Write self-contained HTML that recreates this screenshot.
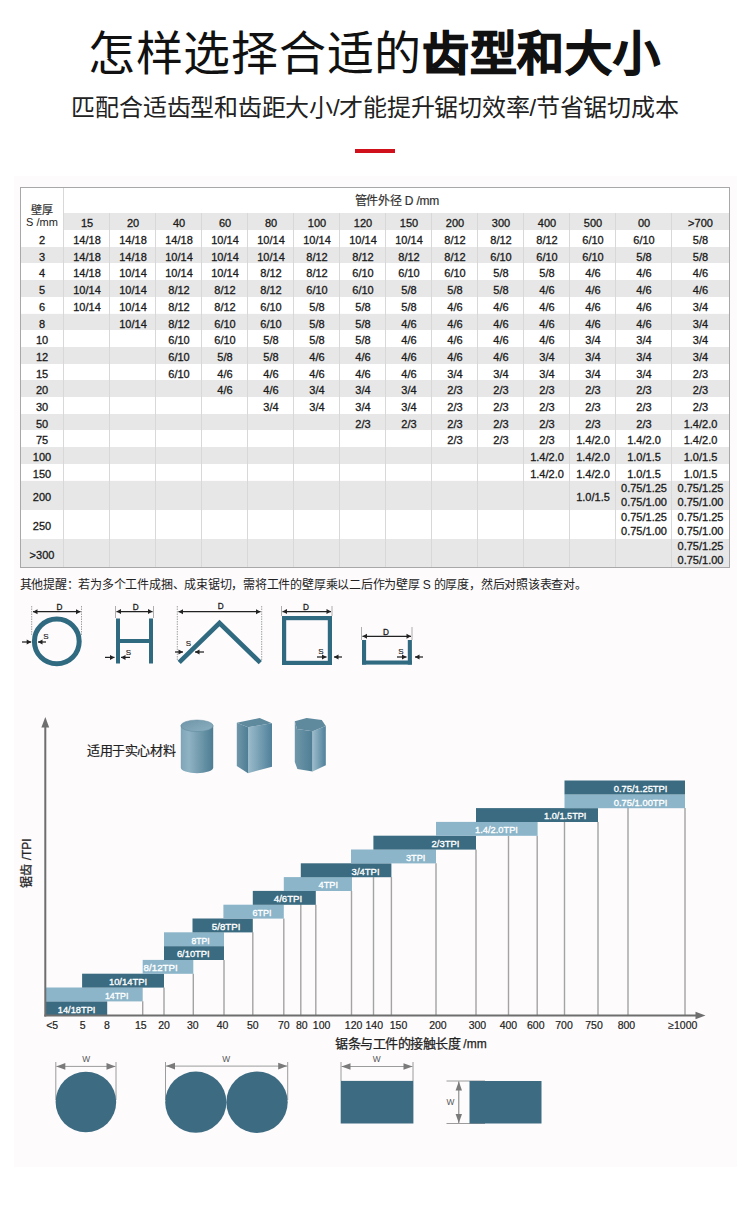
<!DOCTYPE html><html lang="zh-CN"><head><meta charset="utf-8"><style>
*{margin:0;padding:0;box-sizing:border-box}
body{width:750px;height:1213px;position:relative;background:#fff;overflow:hidden;font-family:"Liberation Sans",sans-serif;color:#1a1a1a}
.a{position:absolute;white-space:nowrap}
.c{text-align:center}
.bl{-webkit-text-stroke:0.2px #fff}
.cell{position:absolute;text-align:center;font-size:11px;white-space:nowrap;-webkit-text-stroke:0.3px #1a1a1a}
</style></head><body>
<div class="a" style="left:14px;top:176px;width:723px;height:991px;background:#fdfbfc"></div>
<div class="a" style="left:-1px;top:20.5px;width:750px;text-align:center;font-size:47px;letter-spacing:0.72px;text-indent:0.5px;line-height:66px;color:#111;font-weight:400">怎样选择合适的<b style="font-weight:700;-webkit-text-stroke:1.1px #111">齿型和大小</b></div>
<div class="a" style="left:0;top:92px;width:750px;text-align:center;font-size:24px;letter-spacing:-0.23px;line-height:32px;color:#222">匹配合适齿型和齿距大小/才能提升锯切效率/节省锯切成本</div>
<div class="a" style="left:355px;top:149px;width:40px;height:4px;background:#d0111b"></div>

<div class="a" style="left:64px;top:213px;width:665px;height:17px;background:#e7e7e7"></div>
<div class="a" style="left:20px;top:188px;width:709px;height:25px;background:#fff"></div>
<div class="a" style="left:20px;top:213px;width:44px;height:17px;background:#fff"></div>
<div class="a" style="left:20px;top:230.00px;width:709px;height:16.70px;background:#fff"></div>
<div class="a" style="left:20px;top:246.70px;width:709px;height:16.70px;background:#e7e7e7"></div>
<div class="a" style="left:20px;top:263.40px;width:709px;height:16.70px;background:#fff"></div>
<div class="a" style="left:20px;top:280.10px;width:709px;height:16.70px;background:#e7e7e7"></div>
<div class="a" style="left:20px;top:296.80px;width:709px;height:16.70px;background:#fff"></div>
<div class="a" style="left:20px;top:313.50px;width:709px;height:16.70px;background:#e7e7e7"></div>
<div class="a" style="left:20px;top:330.20px;width:709px;height:16.70px;background:#fff"></div>
<div class="a" style="left:20px;top:346.90px;width:709px;height:16.70px;background:#e7e7e7"></div>
<div class="a" style="left:20px;top:363.60px;width:709px;height:16.70px;background:#fff"></div>
<div class="a" style="left:20px;top:380.30px;width:709px;height:16.70px;background:#e7e7e7"></div>
<div class="a" style="left:20px;top:397.00px;width:709px;height:16.70px;background:#fff"></div>
<div class="a" style="left:20px;top:413.70px;width:709px;height:16.70px;background:#e7e7e7"></div>
<div class="a" style="left:20px;top:430.40px;width:709px;height:16.70px;background:#fff"></div>
<div class="a" style="left:20px;top:447.10px;width:709px;height:16.70px;background:#e7e7e7"></div>
<div class="a" style="left:20px;top:463.80px;width:709px;height:16.70px;background:#fff"></div>
<div class="a" style="left:20px;top:480.50px;width:709px;height:29.00px;background:#e7e7e7"></div>
<div class="a" style="left:20px;top:509.50px;width:709px;height:29.00px;background:#fff"></div>
<div class="a" style="left:20px;top:538.50px;width:709px;height:29.00px;background:#e7e7e7"></div>
<div class="a" style="left:63px;top:188px;width:1px;height:379.5px;background:#d8d8d8"></div>
<div class="a" style="left:109px;top:213px;width:1px;height:354.5px;background:#d8d8d8"></div>
<div class="a" style="left:155px;top:213px;width:1px;height:354.5px;background:#d8d8d8"></div>
<div class="a" style="left:201px;top:213px;width:1px;height:354.5px;background:#d8d8d8"></div>
<div class="a" style="left:247px;top:213px;width:1px;height:354.5px;background:#d8d8d8"></div>
<div class="a" style="left:293px;top:213px;width:1px;height:354.5px;background:#d8d8d8"></div>
<div class="a" style="left:339px;top:213px;width:1px;height:354.5px;background:#d8d8d8"></div>
<div class="a" style="left:385px;top:213px;width:1px;height:354.5px;background:#d8d8d8"></div>
<div class="a" style="left:431px;top:213px;width:1px;height:354.5px;background:#d8d8d8"></div>
<div class="a" style="left:477px;top:213px;width:1px;height:354.5px;background:#d8d8d8"></div>
<div class="a" style="left:523px;top:213px;width:1px;height:354.5px;background:#d8d8d8"></div>
<div class="a" style="left:569px;top:213px;width:1px;height:354.5px;background:#d8d8d8"></div>
<div class="a" style="left:615px;top:213px;width:1px;height:354.5px;background:#d8d8d8"></div>
<div class="a" style="left:671px;top:213px;width:1px;height:354.5px;background:#d8d8d8"></div>
<div class="a" style="left:20px;top:187px;width:710px;height:381px;border:1px solid #a8a8a8"></div>
<div class="a" style="left:354.5px;top:190.5px;font-size:12px;letter-spacing:-0.2px;line-height:20px;color:#333;-webkit-text-stroke:0.2px #333">管件外径 D /mm</div>
<div class="a c" style="left:20px;top:201.5px;width:44px;font-size:11px;line-height:16px;color:#333;-webkit-text-stroke:0.2px #333">壁厚</div>
<div class="a c" style="left:20px;top:214px;width:44px;font-size:11px;line-height:16px;color:#222">S /mm</div>
<div class="cell" style="left:64px;top:213px;width:46px;line-height:20px">15</div>
<div class="cell" style="left:110px;top:213px;width:46px;line-height:20px">20</div>
<div class="cell" style="left:156px;top:213px;width:46px;line-height:20px">40</div>
<div class="cell" style="left:202px;top:213px;width:46px;line-height:20px">60</div>
<div class="cell" style="left:248px;top:213px;width:46px;line-height:20px">80</div>
<div class="cell" style="left:294px;top:213px;width:46px;line-height:20px">100</div>
<div class="cell" style="left:340px;top:213px;width:46px;line-height:20px">120</div>
<div class="cell" style="left:386px;top:213px;width:46px;line-height:20px">150</div>
<div class="cell" style="left:432px;top:213px;width:46px;line-height:20px">200</div>
<div class="cell" style="left:478px;top:213px;width:46px;line-height:20px">300</div>
<div class="cell" style="left:524px;top:213px;width:46px;line-height:20px">400</div>
<div class="cell" style="left:570px;top:213px;width:46px;line-height:20px">500</div>
<div class="cell" style="left:616px;top:213px;width:56px;line-height:20px">00</div>
<div class="cell" style="left:672px;top:213px;width:57px;line-height:20px">&gt;700</div>
<div class="cell" style="left:20px;top:230.00px;width:44px;line-height:20.20px">2</div>
<div class="cell" style="left:64px;top:230.00px;width:46px;line-height:20.20px">14/18</div>
<div class="cell" style="left:110px;top:230.00px;width:46px;line-height:20.20px">14/18</div>
<div class="cell" style="left:156px;top:230.00px;width:46px;line-height:20.20px">14/18</div>
<div class="cell" style="left:202px;top:230.00px;width:46px;line-height:20.20px">10/14</div>
<div class="cell" style="left:248px;top:230.00px;width:46px;line-height:20.20px">10/14</div>
<div class="cell" style="left:294px;top:230.00px;width:46px;line-height:20.20px">10/14</div>
<div class="cell" style="left:340px;top:230.00px;width:46px;line-height:20.20px">10/14</div>
<div class="cell" style="left:386px;top:230.00px;width:46px;line-height:20.20px">10/14</div>
<div class="cell" style="left:432px;top:230.00px;width:46px;line-height:20.20px">8/12</div>
<div class="cell" style="left:478px;top:230.00px;width:46px;line-height:20.20px">8/12</div>
<div class="cell" style="left:524px;top:230.00px;width:46px;line-height:20.20px">8/12</div>
<div class="cell" style="left:570px;top:230.00px;width:46px;line-height:20.20px">6/10</div>
<div class="cell" style="left:616px;top:230.00px;width:56px;line-height:20.20px">6/10</div>
<div class="cell" style="left:672px;top:230.00px;width:57px;line-height:20.20px">5/8</div>
<div class="cell" style="left:20px;top:246.70px;width:44px;line-height:20.20px">3</div>
<div class="cell" style="left:64px;top:246.70px;width:46px;line-height:20.20px">14/18</div>
<div class="cell" style="left:110px;top:246.70px;width:46px;line-height:20.20px">14/18</div>
<div class="cell" style="left:156px;top:246.70px;width:46px;line-height:20.20px">10/14</div>
<div class="cell" style="left:202px;top:246.70px;width:46px;line-height:20.20px">10/14</div>
<div class="cell" style="left:248px;top:246.70px;width:46px;line-height:20.20px">10/14</div>
<div class="cell" style="left:294px;top:246.70px;width:46px;line-height:20.20px">8/12</div>
<div class="cell" style="left:340px;top:246.70px;width:46px;line-height:20.20px">8/12</div>
<div class="cell" style="left:386px;top:246.70px;width:46px;line-height:20.20px">8/12</div>
<div class="cell" style="left:432px;top:246.70px;width:46px;line-height:20.20px">8/12</div>
<div class="cell" style="left:478px;top:246.70px;width:46px;line-height:20.20px">6/10</div>
<div class="cell" style="left:524px;top:246.70px;width:46px;line-height:20.20px">6/10</div>
<div class="cell" style="left:570px;top:246.70px;width:46px;line-height:20.20px">6/10</div>
<div class="cell" style="left:616px;top:246.70px;width:56px;line-height:20.20px">5/8</div>
<div class="cell" style="left:672px;top:246.70px;width:57px;line-height:20.20px">5/8</div>
<div class="cell" style="left:20px;top:263.40px;width:44px;line-height:20.20px">4</div>
<div class="cell" style="left:64px;top:263.40px;width:46px;line-height:20.20px">14/18</div>
<div class="cell" style="left:110px;top:263.40px;width:46px;line-height:20.20px">10/14</div>
<div class="cell" style="left:156px;top:263.40px;width:46px;line-height:20.20px">10/14</div>
<div class="cell" style="left:202px;top:263.40px;width:46px;line-height:20.20px">10/14</div>
<div class="cell" style="left:248px;top:263.40px;width:46px;line-height:20.20px">8/12</div>
<div class="cell" style="left:294px;top:263.40px;width:46px;line-height:20.20px">8/12</div>
<div class="cell" style="left:340px;top:263.40px;width:46px;line-height:20.20px">6/10</div>
<div class="cell" style="left:386px;top:263.40px;width:46px;line-height:20.20px">6/10</div>
<div class="cell" style="left:432px;top:263.40px;width:46px;line-height:20.20px">6/10</div>
<div class="cell" style="left:478px;top:263.40px;width:46px;line-height:20.20px">5/8</div>
<div class="cell" style="left:524px;top:263.40px;width:46px;line-height:20.20px">5/8</div>
<div class="cell" style="left:570px;top:263.40px;width:46px;line-height:20.20px">4/6</div>
<div class="cell" style="left:616px;top:263.40px;width:56px;line-height:20.20px">4/6</div>
<div class="cell" style="left:672px;top:263.40px;width:57px;line-height:20.20px">4/6</div>
<div class="cell" style="left:20px;top:280.10px;width:44px;line-height:20.20px">5</div>
<div class="cell" style="left:64px;top:280.10px;width:46px;line-height:20.20px">10/14</div>
<div class="cell" style="left:110px;top:280.10px;width:46px;line-height:20.20px">10/14</div>
<div class="cell" style="left:156px;top:280.10px;width:46px;line-height:20.20px">8/12</div>
<div class="cell" style="left:202px;top:280.10px;width:46px;line-height:20.20px">8/12</div>
<div class="cell" style="left:248px;top:280.10px;width:46px;line-height:20.20px">8/12</div>
<div class="cell" style="left:294px;top:280.10px;width:46px;line-height:20.20px">6/10</div>
<div class="cell" style="left:340px;top:280.10px;width:46px;line-height:20.20px">6/10</div>
<div class="cell" style="left:386px;top:280.10px;width:46px;line-height:20.20px">5/8</div>
<div class="cell" style="left:432px;top:280.10px;width:46px;line-height:20.20px">5/8</div>
<div class="cell" style="left:478px;top:280.10px;width:46px;line-height:20.20px">5/8</div>
<div class="cell" style="left:524px;top:280.10px;width:46px;line-height:20.20px">4/6</div>
<div class="cell" style="left:570px;top:280.10px;width:46px;line-height:20.20px">4/6</div>
<div class="cell" style="left:616px;top:280.10px;width:56px;line-height:20.20px">4/6</div>
<div class="cell" style="left:672px;top:280.10px;width:57px;line-height:20.20px">4/6</div>
<div class="cell" style="left:20px;top:296.80px;width:44px;line-height:20.20px">6</div>
<div class="cell" style="left:64px;top:296.80px;width:46px;line-height:20.20px">10/14</div>
<div class="cell" style="left:110px;top:296.80px;width:46px;line-height:20.20px">10/14</div>
<div class="cell" style="left:156px;top:296.80px;width:46px;line-height:20.20px">8/12</div>
<div class="cell" style="left:202px;top:296.80px;width:46px;line-height:20.20px">8/12</div>
<div class="cell" style="left:248px;top:296.80px;width:46px;line-height:20.20px">6/10</div>
<div class="cell" style="left:294px;top:296.80px;width:46px;line-height:20.20px">5/8</div>
<div class="cell" style="left:340px;top:296.80px;width:46px;line-height:20.20px">5/8</div>
<div class="cell" style="left:386px;top:296.80px;width:46px;line-height:20.20px">5/8</div>
<div class="cell" style="left:432px;top:296.80px;width:46px;line-height:20.20px">4/6</div>
<div class="cell" style="left:478px;top:296.80px;width:46px;line-height:20.20px">4/6</div>
<div class="cell" style="left:524px;top:296.80px;width:46px;line-height:20.20px">4/6</div>
<div class="cell" style="left:570px;top:296.80px;width:46px;line-height:20.20px">4/6</div>
<div class="cell" style="left:616px;top:296.80px;width:56px;line-height:20.20px">4/6</div>
<div class="cell" style="left:672px;top:296.80px;width:57px;line-height:20.20px">3/4</div>
<div class="cell" style="left:20px;top:313.50px;width:44px;line-height:20.20px">8</div>
<div class="cell" style="left:110px;top:313.50px;width:46px;line-height:20.20px">10/14</div>
<div class="cell" style="left:156px;top:313.50px;width:46px;line-height:20.20px">8/12</div>
<div class="cell" style="left:202px;top:313.50px;width:46px;line-height:20.20px">6/10</div>
<div class="cell" style="left:248px;top:313.50px;width:46px;line-height:20.20px">6/10</div>
<div class="cell" style="left:294px;top:313.50px;width:46px;line-height:20.20px">5/8</div>
<div class="cell" style="left:340px;top:313.50px;width:46px;line-height:20.20px">5/8</div>
<div class="cell" style="left:386px;top:313.50px;width:46px;line-height:20.20px">4/6</div>
<div class="cell" style="left:432px;top:313.50px;width:46px;line-height:20.20px">4/6</div>
<div class="cell" style="left:478px;top:313.50px;width:46px;line-height:20.20px">4/6</div>
<div class="cell" style="left:524px;top:313.50px;width:46px;line-height:20.20px">4/6</div>
<div class="cell" style="left:570px;top:313.50px;width:46px;line-height:20.20px">4/6</div>
<div class="cell" style="left:616px;top:313.50px;width:56px;line-height:20.20px">4/6</div>
<div class="cell" style="left:672px;top:313.50px;width:57px;line-height:20.20px">3/4</div>
<div class="cell" style="left:20px;top:330.20px;width:44px;line-height:20.20px">10</div>
<div class="cell" style="left:156px;top:330.20px;width:46px;line-height:20.20px">6/10</div>
<div class="cell" style="left:202px;top:330.20px;width:46px;line-height:20.20px">6/10</div>
<div class="cell" style="left:248px;top:330.20px;width:46px;line-height:20.20px">5/8</div>
<div class="cell" style="left:294px;top:330.20px;width:46px;line-height:20.20px">5/8</div>
<div class="cell" style="left:340px;top:330.20px;width:46px;line-height:20.20px">5/8</div>
<div class="cell" style="left:386px;top:330.20px;width:46px;line-height:20.20px">4/6</div>
<div class="cell" style="left:432px;top:330.20px;width:46px;line-height:20.20px">4/6</div>
<div class="cell" style="left:478px;top:330.20px;width:46px;line-height:20.20px">4/6</div>
<div class="cell" style="left:524px;top:330.20px;width:46px;line-height:20.20px">4/6</div>
<div class="cell" style="left:570px;top:330.20px;width:46px;line-height:20.20px">3/4</div>
<div class="cell" style="left:616px;top:330.20px;width:56px;line-height:20.20px">3/4</div>
<div class="cell" style="left:672px;top:330.20px;width:57px;line-height:20.20px">3/4</div>
<div class="cell" style="left:20px;top:346.90px;width:44px;line-height:20.20px">12</div>
<div class="cell" style="left:156px;top:346.90px;width:46px;line-height:20.20px">6/10</div>
<div class="cell" style="left:202px;top:346.90px;width:46px;line-height:20.20px">5/8</div>
<div class="cell" style="left:248px;top:346.90px;width:46px;line-height:20.20px">5/8</div>
<div class="cell" style="left:294px;top:346.90px;width:46px;line-height:20.20px">4/6</div>
<div class="cell" style="left:340px;top:346.90px;width:46px;line-height:20.20px">4/6</div>
<div class="cell" style="left:386px;top:346.90px;width:46px;line-height:20.20px">4/6</div>
<div class="cell" style="left:432px;top:346.90px;width:46px;line-height:20.20px">4/6</div>
<div class="cell" style="left:478px;top:346.90px;width:46px;line-height:20.20px">4/6</div>
<div class="cell" style="left:524px;top:346.90px;width:46px;line-height:20.20px">3/4</div>
<div class="cell" style="left:570px;top:346.90px;width:46px;line-height:20.20px">3/4</div>
<div class="cell" style="left:616px;top:346.90px;width:56px;line-height:20.20px">3/4</div>
<div class="cell" style="left:672px;top:346.90px;width:57px;line-height:20.20px">3/4</div>
<div class="cell" style="left:20px;top:363.60px;width:44px;line-height:20.20px">15</div>
<div class="cell" style="left:156px;top:363.60px;width:46px;line-height:20.20px">6/10</div>
<div class="cell" style="left:202px;top:363.60px;width:46px;line-height:20.20px">4/6</div>
<div class="cell" style="left:248px;top:363.60px;width:46px;line-height:20.20px">4/6</div>
<div class="cell" style="left:294px;top:363.60px;width:46px;line-height:20.20px">4/6</div>
<div class="cell" style="left:340px;top:363.60px;width:46px;line-height:20.20px">4/6</div>
<div class="cell" style="left:386px;top:363.60px;width:46px;line-height:20.20px">4/6</div>
<div class="cell" style="left:432px;top:363.60px;width:46px;line-height:20.20px">3/4</div>
<div class="cell" style="left:478px;top:363.60px;width:46px;line-height:20.20px">3/4</div>
<div class="cell" style="left:524px;top:363.60px;width:46px;line-height:20.20px">3/4</div>
<div class="cell" style="left:570px;top:363.60px;width:46px;line-height:20.20px">3/4</div>
<div class="cell" style="left:616px;top:363.60px;width:56px;line-height:20.20px">3/4</div>
<div class="cell" style="left:672px;top:363.60px;width:57px;line-height:20.20px">2/3</div>
<div class="cell" style="left:20px;top:380.30px;width:44px;line-height:20.20px">20</div>
<div class="cell" style="left:202px;top:380.30px;width:46px;line-height:20.20px">4/6</div>
<div class="cell" style="left:248px;top:380.30px;width:46px;line-height:20.20px">4/6</div>
<div class="cell" style="left:294px;top:380.30px;width:46px;line-height:20.20px">3/4</div>
<div class="cell" style="left:340px;top:380.30px;width:46px;line-height:20.20px">3/4</div>
<div class="cell" style="left:386px;top:380.30px;width:46px;line-height:20.20px">3/4</div>
<div class="cell" style="left:432px;top:380.30px;width:46px;line-height:20.20px">2/3</div>
<div class="cell" style="left:478px;top:380.30px;width:46px;line-height:20.20px">2/3</div>
<div class="cell" style="left:524px;top:380.30px;width:46px;line-height:20.20px">2/3</div>
<div class="cell" style="left:570px;top:380.30px;width:46px;line-height:20.20px">2/3</div>
<div class="cell" style="left:616px;top:380.30px;width:56px;line-height:20.20px">2/3</div>
<div class="cell" style="left:672px;top:380.30px;width:57px;line-height:20.20px">2/3</div>
<div class="cell" style="left:20px;top:397.00px;width:44px;line-height:20.20px">30</div>
<div class="cell" style="left:248px;top:397.00px;width:46px;line-height:20.20px">3/4</div>
<div class="cell" style="left:294px;top:397.00px;width:46px;line-height:20.20px">3/4</div>
<div class="cell" style="left:340px;top:397.00px;width:46px;line-height:20.20px">3/4</div>
<div class="cell" style="left:386px;top:397.00px;width:46px;line-height:20.20px">3/4</div>
<div class="cell" style="left:432px;top:397.00px;width:46px;line-height:20.20px">2/3</div>
<div class="cell" style="left:478px;top:397.00px;width:46px;line-height:20.20px">2/3</div>
<div class="cell" style="left:524px;top:397.00px;width:46px;line-height:20.20px">2/3</div>
<div class="cell" style="left:570px;top:397.00px;width:46px;line-height:20.20px">2/3</div>
<div class="cell" style="left:616px;top:397.00px;width:56px;line-height:20.20px">2/3</div>
<div class="cell" style="left:672px;top:397.00px;width:57px;line-height:20.20px">2/3</div>
<div class="cell" style="left:20px;top:413.70px;width:44px;line-height:20.20px">50</div>
<div class="cell" style="left:340px;top:413.70px;width:46px;line-height:20.20px">2/3</div>
<div class="cell" style="left:386px;top:413.70px;width:46px;line-height:20.20px">2/3</div>
<div class="cell" style="left:432px;top:413.70px;width:46px;line-height:20.20px">2/3</div>
<div class="cell" style="left:478px;top:413.70px;width:46px;line-height:20.20px">2/3</div>
<div class="cell" style="left:524px;top:413.70px;width:46px;line-height:20.20px">2/3</div>
<div class="cell" style="left:570px;top:413.70px;width:46px;line-height:20.20px">2/3</div>
<div class="cell" style="left:616px;top:413.70px;width:56px;line-height:20.20px">2/3</div>
<div class="cell" style="left:672px;top:413.70px;width:57px;line-height:20.20px">1.4/2.0</div>
<div class="cell" style="left:20px;top:430.40px;width:44px;line-height:20.20px">75</div>
<div class="cell" style="left:432px;top:430.40px;width:46px;line-height:20.20px">2/3</div>
<div class="cell" style="left:478px;top:430.40px;width:46px;line-height:20.20px">2/3</div>
<div class="cell" style="left:524px;top:430.40px;width:46px;line-height:20.20px">2/3</div>
<div class="cell" style="left:570px;top:430.40px;width:46px;line-height:20.20px">1.4/2.0</div>
<div class="cell" style="left:616px;top:430.40px;width:56px;line-height:20.20px">1.4/2.0</div>
<div class="cell" style="left:672px;top:430.40px;width:57px;line-height:20.20px">1.4/2.0</div>
<div class="cell" style="left:20px;top:447.10px;width:44px;line-height:20.20px">100</div>
<div class="cell" style="left:524px;top:447.10px;width:46px;line-height:20.20px">1.4/2.0</div>
<div class="cell" style="left:570px;top:447.10px;width:46px;line-height:20.20px">1.4/2.0</div>
<div class="cell" style="left:616px;top:447.10px;width:56px;line-height:20.20px">1.0/1.5</div>
<div class="cell" style="left:672px;top:447.10px;width:57px;line-height:20.20px">1.0/1.5</div>
<div class="cell" style="left:20px;top:463.80px;width:44px;line-height:20.20px">150</div>
<div class="cell" style="left:524px;top:463.80px;width:46px;line-height:20.20px">1.4/2.0</div>
<div class="cell" style="left:570px;top:463.80px;width:46px;line-height:20.20px">1.4/2.0</div>
<div class="cell" style="left:616px;top:463.80px;width:56px;line-height:20.20px">1.0/1.5</div>
<div class="cell" style="left:672px;top:463.80px;width:57px;line-height:20.20px">1.0/1.5</div>
<div class="cell" style="left:20px;top:480.50px;width:44px;line-height:32.50px">200</div>
<div class="cell" style="left:570px;top:480.50px;width:46px;line-height:32.50px">1.0/1.5</div>
<div class="cell" style="left:616px;top:482.00px;width:56px;line-height:13.5px">0.75/1.25<br>0.75/1.00</div>
<div class="cell" style="left:672px;top:482.00px;width:57px;line-height:13.5px">0.75/1.25<br>0.75/1.00</div>
<div class="cell" style="left:20px;top:509.50px;width:44px;line-height:32.50px">250</div>
<div class="cell" style="left:616px;top:511.00px;width:56px;line-height:13.5px">0.75/1.25<br>0.75/1.00</div>
<div class="cell" style="left:672px;top:511.00px;width:57px;line-height:13.5px">0.75/1.25<br>0.75/1.00</div>
<div class="cell" style="left:20px;top:538.50px;width:44px;line-height:32.50px">&gt;300</div>
<div class="cell" style="left:672px;top:540.00px;width:57px;line-height:13.5px">0.75/1.25<br>0.75/1.00</div>
<div class="a" style="left:19.5px;top:577px;font-size:12px;line-height:17px;color:#222;letter-spacing:-0.23px">其他提醒：若为多个工件成捆、成束锯切，需将工件的壁厚乘以二后作为壁厚 S 的厚度，然后对照该表查对。</div>
<svg class="a" style="left:0;top:0" width="750" height="1213" viewBox="0 0 750 1213" font-family="Liberation Sans, sans-serif"><line x1="31.7" y1="606" x2="31.7" y2="635" stroke="#8a8a8a" stroke-width="0.8" stroke-dasharray="1.5,1"/><line x1="81.5" y1="606" x2="81.5" y2="635" stroke="#8a8a8a" stroke-width="0.8" stroke-dasharray="1.5,1"/><line x1="33" y1="611.7" x2="80.5" y2="611.7" stroke="#222" stroke-width="1.25"/><polygon points="33,611.7 37.5,609.2 37.5,614.2" fill="#222"/><polygon points="80.5,611.7 76.0,609.2 76.0,614.2" fill="#222"/><text x="59.5" y="609.6" font-size="8.2" fill="#222" text-anchor="middle" font-weight="normal" stroke="#222" stroke-width="0.3">D</text><circle cx="56.8" cy="641.4" r="22.4" fill="none" stroke="#2f6a80" stroke-width="5"/><line x1="22" y1="642" x2="31.2" y2="642" stroke="#222" stroke-width="1.25"/><polygon points="31.2,642 26.7,639.5 26.7,644.5" fill="#222"/><line x1="46" y1="642" x2="38" y2="642" stroke="#222" stroke-width="1.25"/><polygon points="38,642 42.5,639.5 42.5,644.5" fill="#222"/><text x="46" y="638.5" font-size="8" fill="#222" text-anchor="middle" font-weight="normal" stroke="#222" stroke-width="0.15">S</text><line x1="115.5" y1="606" x2="115.5" y2="618" stroke="#9a9a9a" stroke-width="0.8"/><line x1="153.5" y1="606" x2="153.5" y2="618" stroke="#9a9a9a" stroke-width="0.8"/><line x1="116.5" y1="611.5" x2="152.5" y2="611.5" stroke="#222" stroke-width="1.25"/><polygon points="116.5,611.5 121.0,609.0 121.0,614.0" fill="#222"/><polygon points="152.5,611.5 148.0,609.0 148.0,614.0" fill="#222"/><text x="135.7" y="609.5" font-size="8.2" fill="#222" text-anchor="middle" font-weight="normal" stroke="#222" stroke-width="0.3">D</text><rect x="116" y="618.5" width="4" height="45" fill="#2f6a80"/><rect x="149" y="618.5" width="4" height="45" fill="#2f6a80"/><rect x="120" y="639" width="29" height="4" fill="#2f6a80"/><line x1="105" y1="657.4" x2="114.5" y2="657.4" stroke="#222" stroke-width="1.25"/><polygon points="114.5,657.4 110.0,654.9 110.0,659.9" fill="#222"/><line x1="130" y1="657.4" x2="121" y2="657.4" stroke="#222" stroke-width="1.25"/><polygon points="121,657.4 125.5,654.9 125.5,659.9" fill="#222"/><text x="128.5" y="654.5" font-size="8" fill="#222" text-anchor="middle" font-weight="normal" stroke="#222" stroke-width="0.15">S</text><line x1="177.3" y1="606" x2="177.3" y2="660" stroke="#8a8a8a" stroke-width="0.8" stroke-dasharray="1.5,1"/><line x1="261.7" y1="606" x2="261.7" y2="660" stroke="#8a8a8a" stroke-width="0.8" stroke-dasharray="1.5,1"/><line x1="178.5" y1="611.7" x2="260.5" y2="611.7" stroke="#222" stroke-width="1.25"/><polygon points="178.5,611.7 183.0,609.2 183.0,614.2" fill="#222"/><polygon points="260.5,611.7 256.0,609.2 256.0,614.2" fill="#222"/><text x="220.7" y="609.3" font-size="8.2" fill="#222" text-anchor="middle" font-weight="normal" stroke="#222" stroke-width="0.3">D</text><polyline points="179.2,662.3 219.5,623 260.3,662.6" fill="none" stroke="#2f6a80" stroke-width="4.6" stroke-linejoin="miter"/><line x1="175" y1="652" x2="183" y2="652" stroke="#222" stroke-width="1.25"/><polygon points="183,652 178.5,649.5 178.5,654.5" fill="#222"/><line x1="204" y1="652" x2="195" y2="652" stroke="#222" stroke-width="1.25"/><polygon points="195,652 199.5,649.5 199.5,654.5" fill="#222"/><text x="188.5" y="646.0" font-size="8" fill="#222" text-anchor="middle" font-weight="normal" stroke="#222" stroke-width="0.15">S</text><line x1="281.5" y1="606" x2="281.5" y2="616" stroke="#9a9a9a" stroke-width="0.8"/><line x1="332" y1="606" x2="332" y2="616" stroke="#9a9a9a" stroke-width="0.8"/><line x1="282.5" y1="611.5" x2="331" y2="611.5" stroke="#222" stroke-width="1.25"/><polygon points="282.5,611.5 287.0,609.0 287.0,614.0" fill="#222"/><polygon points="331,611.5 326.5,609.0 326.5,614.0" fill="#222"/><text x="306" y="609.5" font-size="8.2" fill="#222" text-anchor="middle" font-weight="normal" stroke="#222" stroke-width="0.3">D</text><rect x="284.1" y="618.1" width="45.8" height="44.8" fill="none" stroke="#2f6a80" stroke-width="4.2"/><line x1="317" y1="657" x2="326.5" y2="657" stroke="#222" stroke-width="1.25"/><polygon points="326.5,657 322.0,654.5 322.0,659.5" fill="#222"/><line x1="342" y1="657" x2="334" y2="657" stroke="#222" stroke-width="1.25"/><polygon points="334,657 338.5,654.5 338.5,659.5" fill="#222"/><text x="321" y="654.0" font-size="8" fill="#222" text-anchor="middle" font-weight="normal" stroke="#222" stroke-width="0.15">S</text><line x1="361.5" y1="627" x2="361.5" y2="640" stroke="#9a9a9a" stroke-width="0.8"/><line x1="412" y1="627" x2="412" y2="640" stroke="#9a9a9a" stroke-width="0.8"/><line x1="362.5" y1="636.3" x2="411" y2="636.3" stroke="#222" stroke-width="1.25"/><polygon points="362.5,636.3 367.0,633.8 367.0,638.8" fill="#222"/><polygon points="411,636.3 406.5,633.8 406.5,638.8" fill="#222"/><text x="386" y="635.3" font-size="8.2" fill="#222" text-anchor="middle" font-weight="normal" stroke="#222" stroke-width="0.3">D</text><rect x="362" y="640" width="4.1" height="24.6" fill="#2f6a80"/><rect x="407.8" y="640" width="4.1" height="24.6" fill="#2f6a80"/><rect x="362" y="660.5" width="49.9" height="4.1" fill="#2f6a80"/><line x1="397" y1="657" x2="406.5" y2="657" stroke="#222" stroke-width="1.25"/><polygon points="406.5,657 402.0,654.5 402.0,659.5" fill="#222"/><line x1="423" y1="657" x2="415" y2="657" stroke="#222" stroke-width="1.25"/><polygon points="415,657 419.5,654.5 419.5,659.5" fill="#222"/><text x="401" y="654.0" font-size="8" fill="#222" text-anchor="middle" font-weight="normal" stroke="#222" stroke-width="0.15">S</text><line x1="142.7" y1="1001.30" x2="142.7" y2="1015" stroke="#a3a3a3" stroke-width="1.4"/><line x1="164" y1="987.50" x2="164" y2="1015" stroke="#a3a3a3" stroke-width="1.4"/><line x1="193.3" y1="973.70" x2="193.3" y2="1015" stroke="#a3a3a3" stroke-width="1.4"/><line x1="224" y1="959.90" x2="224" y2="1015" stroke="#a3a3a3" stroke-width="1.4"/><line x1="252.8" y1="932.30" x2="252.8" y2="1015" stroke="#a3a3a3" stroke-width="1.4"/><line x1="283.8" y1="918.50" x2="283.8" y2="1015" stroke="#a3a3a3" stroke-width="1.4"/><line x1="300.8" y1="890.90" x2="300.8" y2="1015" stroke="#a3a3a3" stroke-width="1.4"/><line x1="315.8" y1="904.70" x2="315.8" y2="1015" stroke="#a3a3a3" stroke-width="1.4"/><line x1="351.5" y1="890.90" x2="351.5" y2="1015" stroke="#a3a3a3" stroke-width="1.4"/><line x1="373.5" y1="877.10" x2="373.5" y2="1015" stroke="#a3a3a3" stroke-width="1.4"/><line x1="391.4" y1="877.10" x2="391.4" y2="1015" stroke="#a3a3a3" stroke-width="1.4"/><line x1="436" y1="863.30" x2="436" y2="1015" stroke="#a3a3a3" stroke-width="1.4"/><line x1="476" y1="849.50" x2="476" y2="1015" stroke="#a3a3a3" stroke-width="1.4"/><line x1="508.5" y1="835.70" x2="508.5" y2="1015" stroke="#a3a3a3" stroke-width="1.4"/><line x1="537.2" y1="835.70" x2="537.2" y2="1015" stroke="#a3a3a3" stroke-width="1.4"/><line x1="564.5" y1="821.90" x2="564.5" y2="1015" stroke="#a3a3a3" stroke-width="1.4"/><line x1="598" y1="821.90" x2="598" y2="1015" stroke="#a3a3a3" stroke-width="1.4"/><line x1="628" y1="808.10" x2="628" y2="1015" stroke="#a3a3a3" stroke-width="1.4"/><line x1="685" y1="808.10" x2="685" y2="1015" stroke="#a3a3a3" stroke-width="1.4"/><rect x="46" y="1001.30" width="61.20" height="13.9" fill="#3b6b81"/><text x="57.800000000000004" y="1012.50" font-size="9.8" fill="#fff" stroke="#fff" stroke-width="0.35" textLength="37.6" lengthAdjust="spacingAndGlyphs">14/18TPI</text><rect x="46" y="987.50" width="96.70" height="13.9" fill="#8cb5c9"/><text x="104.89999999999999" y="998.70" font-size="9.8" fill="#fff" stroke="#fff" stroke-width="0.35" textLength="23.5" lengthAdjust="spacingAndGlyphs">14TPI</text><rect x="82.1" y="973.70" width="81.90" height="13.9" fill="#3b6b81"/><text x="108.89999999999999" y="984.90" font-size="9.8" fill="#fff" stroke="#fff" stroke-width="0.35" textLength="38.2" lengthAdjust="spacingAndGlyphs">10/14TPI</text><rect x="142.7" y="959.90" width="50.60" height="13.9" fill="#8cb5c9"/><text x="143.6" y="971.10" font-size="9.8" fill="#fff" stroke="#fff" stroke-width="0.35" textLength="34.1" lengthAdjust="spacingAndGlyphs">8/12TPI</text><rect x="164" y="946.10" width="60.00" height="13.9" fill="#3b6b81"/><text x="176.9" y="957.30" font-size="9.8" fill="#fff" stroke="#fff" stroke-width="0.35" textLength="32.8" lengthAdjust="spacingAndGlyphs">6/10TPI</text><rect x="164" y="932.30" width="60.00" height="13.9" fill="#8cb5c9"/><text x="191.6" y="943.50" font-size="9.8" fill="#fff" stroke="#fff" stroke-width="0.35" textLength="18.1" lengthAdjust="spacingAndGlyphs">8TPI</text><rect x="192.5" y="918.50" width="60.30" height="13.9" fill="#3b6b81"/><text x="211.79999999999998" y="929.70" font-size="9.8" fill="#fff" stroke="#fff" stroke-width="0.35" textLength="28.6" lengthAdjust="spacingAndGlyphs">5/8TPI</text><rect x="223.4" y="904.70" width="60.40" height="13.9" fill="#8cb5c9"/><text x="252.4" y="915.90" font-size="9.8" fill="#fff" stroke="#fff" stroke-width="0.35" textLength="19.0" lengthAdjust="spacingAndGlyphs">6TPI</text><rect x="252.8" y="890.90" width="63.00" height="13.9" fill="#3b6b81"/><text x="273.8" y="902.10" font-size="9.8" fill="#fff" stroke="#fff" stroke-width="0.35" textLength="28.4" lengthAdjust="spacingAndGlyphs">4/6TPI</text><rect x="283.8" y="877.10" width="68.20" height="13.9" fill="#8cb5c9"/><text x="318.6" y="888.30" font-size="9.8" fill="#fff" stroke="#fff" stroke-width="0.35" textLength="19.4" lengthAdjust="spacingAndGlyphs">4TPI</text><rect x="300.8" y="863.30" width="90.60" height="13.9" fill="#3b6b81"/><text x="351.6" y="874.50" font-size="9.8" fill="#fff" stroke="#fff" stroke-width="0.35" textLength="28.0" lengthAdjust="spacingAndGlyphs">3/4TPI</text><rect x="351" y="849.50" width="85.00" height="13.9" fill="#8cb5c9"/><text x="406.0" y="860.70" font-size="9.8" fill="#fff" stroke="#fff" stroke-width="0.35" textLength="19.4" lengthAdjust="spacingAndGlyphs">3TPI</text><rect x="373.4" y="835.70" width="102.60" height="13.9" fill="#3b6b81"/><text x="431.6" y="846.90" font-size="9.8" fill="#fff" stroke="#fff" stroke-width="0.35" textLength="27.8" lengthAdjust="spacingAndGlyphs">2/3TPI</text><rect x="436" y="821.90" width="101.60" height="13.9" fill="#8cb5c9"/><text x="475.1" y="833.10" font-size="9.8" fill="#fff" stroke="#fff" stroke-width="0.35" textLength="42.8" lengthAdjust="spacingAndGlyphs">1.4/2.0TPI</text><rect x="476" y="808.10" width="122.00" height="13.9" fill="#3b6b81"/><text x="544.1" y="819.30" font-size="9.8" fill="#fff" stroke="#fff" stroke-width="0.35" textLength="42.3" lengthAdjust="spacingAndGlyphs">1.0/1.5TPI</text><rect x="564.5" y="794.30" width="120.50" height="13.9" fill="#8cb5c9"/><text x="613.7" y="805.50" font-size="9.8" fill="#fff" stroke="#fff" stroke-width="0.35" textLength="53.8" lengthAdjust="spacingAndGlyphs">0.75/1.00TPI</text><rect x="564.5" y="780.50" width="120.50" height="13.9" fill="#3b6b81"/><text x="613.7" y="791.70" font-size="9.8" fill="#fff" stroke="#fff" stroke-width="0.35" textLength="53.8" lengthAdjust="spacingAndGlyphs">0.75/1.25TPI</text><line x1="45.3" y1="726" x2="45.3" y2="1016.4" stroke="#6e6e6e" stroke-width="2"/><polygon points="45.3,717 41.4,727.5 49.2,727.5" fill="#6e6e6e"/><line x1="44.3" y1="1015.5" x2="697" y2="1015.5" stroke="#6e6e6e" stroke-width="2"/><polygon points="705.5,1015.5 695.5,1011.8 695.5,1019.2" fill="#6e6e6e"/><text x="52.2" y="1028.8" font-size="10.5" fill="#222" text-anchor="middle" font-weight="normal" stroke="#222" stroke-width="0.2">&lt;5</text><text x="82.7" y="1028.8" font-size="10.5" fill="#222" text-anchor="middle" font-weight="normal" stroke="#222" stroke-width="0.2">5</text><text x="106.8" y="1028.8" font-size="10.5" fill="#222" text-anchor="middle" font-weight="normal" stroke="#222" stroke-width="0.2">8</text><text x="140.8" y="1028.8" font-size="10.5" fill="#222" text-anchor="middle" font-weight="normal" stroke="#222" stroke-width="0.2">15</text><text x="164" y="1028.8" font-size="10.5" fill="#222" text-anchor="middle" font-weight="normal" stroke="#222" stroke-width="0.2">20</text><text x="192.8" y="1028.8" font-size="10.5" fill="#222" text-anchor="middle" font-weight="normal" stroke="#222" stroke-width="0.2">30</text><text x="222.6" y="1028.8" font-size="10.5" fill="#222" text-anchor="middle" font-weight="normal" stroke="#222" stroke-width="0.2">40</text><text x="252.8" y="1028.8" font-size="10.5" fill="#222" text-anchor="middle" font-weight="normal" stroke="#222" stroke-width="0.2">50</text><text x="283.8" y="1028.8" font-size="10.5" fill="#222" text-anchor="middle" font-weight="normal" stroke="#222" stroke-width="0.2">70</text><text x="301.8" y="1028.8" font-size="10.5" fill="#222" text-anchor="middle" font-weight="normal" stroke="#222" stroke-width="0.2">80</text><text x="321.6" y="1028.8" font-size="10.5" fill="#222" text-anchor="middle" font-weight="normal" stroke="#222" stroke-width="0.2">100</text><text x="353.6" y="1028.8" font-size="10.5" fill="#222" text-anchor="middle" font-weight="normal" stroke="#222" stroke-width="0.2">120</text><text x="374.3" y="1028.8" font-size="10.5" fill="#222" text-anchor="middle" font-weight="normal" stroke="#222" stroke-width="0.2">140</text><text x="398.5" y="1028.8" font-size="10.5" fill="#222" text-anchor="middle" font-weight="normal" stroke="#222" stroke-width="0.2">150</text><text x="437.9" y="1028.8" font-size="10.5" fill="#222" text-anchor="middle" font-weight="normal" stroke="#222" stroke-width="0.2">200</text><text x="477.4" y="1028.8" font-size="10.5" fill="#222" text-anchor="middle" font-weight="normal" stroke="#222" stroke-width="0.2">300</text><text x="508.4" y="1028.8" font-size="10.5" fill="#222" text-anchor="middle" font-weight="normal" stroke="#222" stroke-width="0.2">400</text><text x="535.8" y="1028.8" font-size="10.5" fill="#222" text-anchor="middle" font-weight="normal" stroke="#222" stroke-width="0.2">600</text><text x="564" y="1028.8" font-size="10.5" fill="#222" text-anchor="middle" font-weight="normal" stroke="#222" stroke-width="0.2">700</text><text x="594" y="1028.8" font-size="10.5" fill="#222" text-anchor="middle" font-weight="normal" stroke="#222" stroke-width="0.2">750</text><text x="626.4" y="1028.8" font-size="10.5" fill="#222" text-anchor="middle" font-weight="normal" stroke="#222" stroke-width="0.2">800</text><text x="682.8" y="1028.8" font-size="10.5" fill="#222" text-anchor="middle" font-weight="normal" stroke="#222" stroke-width="0.2">≥1000</text><defs><linearGradient id="gb" x1="0" x2="1" y1="0" y2="0"><stop offset="0" stop-color="#7ea5b7"/><stop offset="0.25" stop-color="#8fb3c3"/><stop offset="1" stop-color="#4d7c92"/></linearGradient><linearGradient id="gt" x1="0" x2="1" y1="0" y2="1"><stop offset="0" stop-color="#6e95a8"/><stop offset="1" stop-color="#8cb0c0"/></linearGradient><linearGradient id="gl" x1="0" x2="1" y1="0" y2="0"><stop offset="0" stop-color="#6f97aa"/><stop offset="1" stop-color="#4f7e94"/></linearGradient><linearGradient id="gf" x1="0" x2="1" y1="0" y2="0"><stop offset="0" stop-color="#9bbccb"/><stop offset="1" stop-color="#50809a"/></linearGradient></defs><path d="M180.8,725.8 L180.8,767.4 A16.2,5.8 0 0 0 213.2,767.4 L213.2,725.8 Z" fill="url(#gb)"/><ellipse cx="197" cy="725.8" rx="16.2" ry="5.8" fill="url(#gt)" stroke="#5d889c" stroke-width="0.5"/><polygon points="236.8,722.8 248,727.2 248,773.2 236.8,766" fill="url(#gl)"/><polygon points="248,727.2 272,723.2 272,766.8 248,773.2" fill="url(#gf)"/><polygon points="236.8,722.8 259.6,718 272,723.2 248,727.2" fill="#5f8a9e"/><polygon points="294.8,721.2 297,729 312.6,731.2 312.6,771.6 297.4,769 294.8,762" fill="url(#gl)"/><polygon points="312.6,731.2 325.8,726 325.8,765.2 312.6,771.6" fill="url(#gf)"/><polygon points="294.8,721.2 306.6,718 321.8,720 325.8,726 312.6,731.2 297,729" fill="#5f8a9e"/><line x1="55.8" y1="1062" x2="55.8" y2="1100" stroke="#9c9c9c" stroke-width="1"/><line x1="116" y1="1062" x2="116" y2="1100" stroke="#9c9c9c" stroke-width="1"/><line x1="56.3" y1="1066.4" x2="115.5" y2="1066.4" stroke="#9c9c9c" stroke-width="1"/><polygon points="56.3,1066.4 65.3,1063.1000000000001 65.3,1069.7" fill="#7a7a7a"/><polygon points="115.5,1066.4 106.5,1063.1000000000001 106.5,1069.7" fill="#7a7a7a"/><text x="86.2" y="1062" font-size="8.4" fill="#555" text-anchor="middle" font-weight="normal" >W</text><circle cx="85.9" cy="1102" r="30.3" fill="#3d6b82"/><line x1="165.5" y1="1062" x2="165.5" y2="1100" stroke="#9c9c9c" stroke-width="1"/><line x1="287.7" y1="1062" x2="287.7" y2="1100" stroke="#9c9c9c" stroke-width="1"/><line x1="166" y1="1066.1" x2="287.2" y2="1066.1" stroke="#9c9c9c" stroke-width="1"/><polygon points="166,1066.1 175,1062.8 175,1069.3999999999999" fill="#7a7a7a"/><polygon points="287.2,1066.1 278.2,1062.8 278.2,1069.3999999999999" fill="#7a7a7a"/><text x="226.3" y="1062" font-size="8.4" fill="#555" text-anchor="middle" font-weight="normal" >W</text><circle cx="195.8" cy="1102.2" r="30.6" fill="#3d6b82"/><circle cx="257" cy="1102.2" r="30.7" fill="#3d6b82"/><line x1="341" y1="1062" x2="341" y2="1081" stroke="#9c9c9c" stroke-width="1"/><line x1="413" y1="1062" x2="413" y2="1081" stroke="#9c9c9c" stroke-width="1"/><line x1="341.5" y1="1066.5" x2="412.5" y2="1066.5" stroke="#9c9c9c" stroke-width="1"/><polygon points="341.5,1066.5 350.5,1063.2 350.5,1069.8" fill="#7a7a7a"/><polygon points="412.5,1066.5 403.5,1063.2 403.5,1069.8" fill="#7a7a7a"/><text x="376.6" y="1062" font-size="8.4" fill="#555" text-anchor="middle" font-weight="normal" >W</text><rect x="340.7" y="1080.9" width="72.7" height="42.6" fill="#3d6b82"/><line x1="446.5" y1="1081" x2="485" y2="1081" stroke="#9c9c9c" stroke-width="1"/><line x1="446.5" y1="1123.5" x2="485" y2="1123.5" stroke="#9c9c9c" stroke-width="1"/><line x1="458.8" y1="1081.5" x2="458.8" y2="1123" stroke="#7a7a7a" stroke-width="1.0"/><polygon points="458.8,1081.5 455.6,1090.5 462.0,1090.5" fill="#7a7a7a"/><polygon points="458.8,1123 455.6,1114 462.0,1114" fill="#7a7a7a"/><text x="450.5" y="1105.3" font-size="8.4" fill="#555" text-anchor="middle" font-weight="normal" >W</text><rect x="469.5" y="1081" width="72" height="42.5" fill="#3d6b82"/></svg>
<div class="a" style="left:87px;top:742px;font-size:13px;letter-spacing:-0.4px;line-height:17px;color:#222;-webkit-text-stroke:0.2px #222">适用于实心材料</div>
<div class="a" style="left:-3px;top:855px;width:60px;text-align:center;font-size:12px;line-height:16px;color:#222;transform:rotate(-90deg);-webkit-text-stroke:0.25px #222">锯齿 /TPI</div>
<div class="a" style="left:335px;top:1035px;font-size:13px;letter-spacing:-0.5px;line-height:17px;color:#222;-webkit-text-stroke:0.25px #222">锯条与工件的接触长度<span style="font-size:12px;letter-spacing:0"> /mm</span></div>
</body></html>
